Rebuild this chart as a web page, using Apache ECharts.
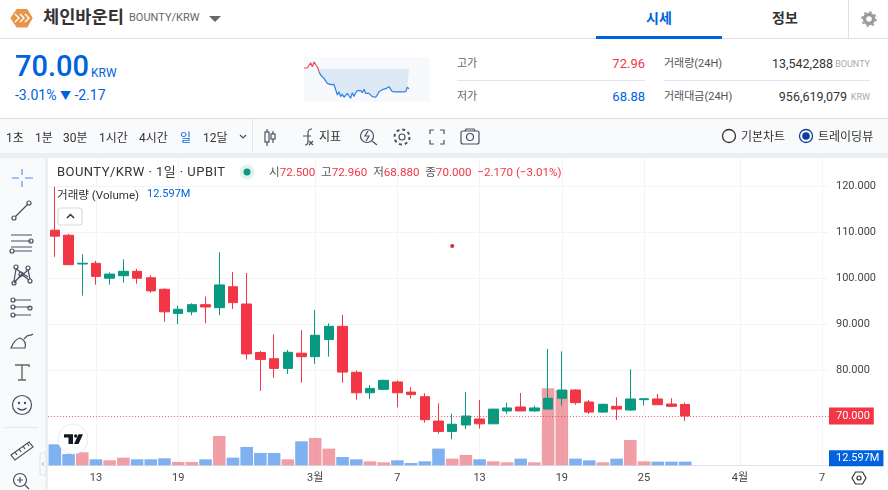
<!DOCTYPE html>
<html lang="ko">
<head>
<meta charset="utf-8">
<title>BOUNTY/KRW</title>
<script src="https://cdn.jsdelivr.net/npm/echarts@6/dist/echarts.min.js"></script>
<style>
html, body { margin: 0; padding: 0; background: #fff; overflow: hidden; }
body { width: 888px; height: 490px; position: relative; font-family: Roboto, "Noto Sans CJK KR", sans-serif; color: #333; }
#chart { position: absolute; left: 0; top: 0; width: 888px; height: 490px; }
#spark { position: absolute; left: 304px; top: 57px; width: 126px; height: 45px; background: #f8f9fc; }
.t { position: absolute; white-space: nowrap; line-height: 1; }
.r { transform: translateX(-100%); }
.box { position: absolute; }
svg.ic { position: absolute; left: 0; top: 0; width: 888px; height: 490px; fill: none; stroke: #4a5060; stroke-width: 1.2; }
.red { color: #f23645; }
.blue { color: #0062df; }
.grey { color: #aaa; }
</style>
</head>
<body>
<div id="chart"></div>

<!-- page chrome -->
<div class="box" style="left:0;top:0;width:888px;height:38px;background:#fff;border-bottom:1px solid #dfe1e6"></div>
<div class="box" style="left:0;top:39px;width:888px;height:79px;background:#fff;border-bottom:1px solid #d8dae0"></div>
<div class="box" style="left:0;top:119px;width:888px;height:34px;background:#f9fafc"></div>
<div class="box" style="left:0;top:153px;width:888px;height:5px;background:#eceef2"></div>
<div class="box" style="left:0;top:158px;width:45px;height:332px;background:#f9fafc"></div>
<div class="box" style="left:45px;top:158px;width:3px;height:332px;background:#eceef2"></div>
<div class="box" style="left:252px;top:119px;width:1px;height:34px;background:#e6e8ee"></div>
<div class="box" style="left:596px;top:36px;width:126px;height:3px;background:#0062df"></div>
<div class="box" style="left:848px;top:0;width:1px;height:38px;background:#dfe1e6"></div>
<div class="box" style="left:457px;top:80px;width:188px;height:1px;background:#e3e5ec"></div>
<div class="box" style="left:664px;top:80px;width:206px;height:1px;background:#e3e5ec"></div>
<div class="box" style="left:5px;top:427px;width:33px;height:1px;background:#e3e5ec"></div>

<div id="spark"></div>

<div class="t" style="left:43px;top:9px;font-size:17.6px;font-weight:700;color:#333">체인바운티</div>
<div class="t" style="left:129px;top:12px;font-size:11px;color:#666">BOUNTY/KRW</div>
<div class="t blue" style="left:646px;top:11px;font-size:14px;font-weight:700">시세</div>
<div class="t" style="left:772px;top:11px;font-size:14px;font-weight:700;color:#333">정보</div>

<div class="t blue" style="left:15px;top:52px;font-size:29px;font-weight:500">70.00</div>
<div class="t blue" style="left:91px;top:67px;font-size:12px">KRW</div>
<div class="t blue" style="left:15px;top:88px;font-size:14px">-3.01% <span style="font-size:11px">▼</span> -2.17</div>

<div class="t" style="left:457px;top:58px;font-size:11px;color:#666">고가</div>
<div class="t red r" style="left:645px;top:57px;font-size:13px">72.96</div>
<div class="t" style="left:457px;top:91px;font-size:11px;color:#666">저가</div>
<div class="t blue r" style="left:645px;top:90px;font-size:13px">68.88</div>
<div class="t" style="left:664px;top:58px;font-size:11px;color:#555">거래량(24H)</div>
<div class="t r" style="left:833px;top:58px;font-size:12.5px;color:#333">13,542,288</div>
<div class="t grey r" style="left:870px;top:60px;font-size:9px">BOUNTY</div>
<div class="t" style="left:664px;top:91px;font-size:11px;color:#555">거래대금(24H)</div>
<div class="t r" style="left:847px;top:91px;font-size:12.5px;color:#333">956,619,079</div>
<div class="t grey r" style="left:870px;top:93px;font-size:9px">KRW</div>

<div class="t" style="left:6px;top:132px;font-size:12px">1초</div>
<div class="t" style="left:35px;top:132px;font-size:12px">1분</div>
<div class="t" style="left:63px;top:132px;font-size:12px">30분</div>
<div class="t" style="left:99px;top:132px;font-size:12px">1시간</div>
<div class="t" style="left:139px;top:132px;font-size:12px">4시간</div>
<div class="t blue" style="left:180px;top:132px;font-size:12px">일</div>
<div class="t" style="left:203px;top:132px;font-size:12px">12달</div>
<div class="t" style="left:319px;top:131px;font-size:12px">지표</div>
<div class="t" style="left:741px;top:131px;font-size:12px">기본차트</div>
<div class="t" style="left:818px;top:131px;font-size:12px">트레이딩뷰</div>

<div class="t" style="left:57px;top:165px;font-size:13px;color:#333;letter-spacing:.45px">BOUNTY/KRW · 1일 · UPBIT</div>
<div class="t" style="left:269px;top:167px;font-size:11.6px;color:#555">시<span class="red">72.500</span>&nbsp;&nbsp;고<span class="red">72.960</span>&nbsp;&nbsp;저<span class="red">68.880</span>&nbsp;&nbsp;종<span class="red">70.000</span>&nbsp;&nbsp;<span class="red">−2.170 (−3.01%)</span></div>
<div class="t" style="left:57px;top:190px;font-size:11.6px;color:#333">거래량 (Volume)</div>
<div class="t blue" style="left:147px;top:188px;font-size:11px">12.597M</div>

<svg class="ic" viewBox="0 0 888 490">
  <!-- logo -->
  <polygon points="11,18 17,9.5 27,9.5 32,18 27,27 17,27" style="fill:#e8954a;stroke:#e8954a"/>
  <path d="M15,14 l4,4 -4,4 M20,14 l4,4 -4,4 M25,14 l4,4 -4,4" style="stroke:#fff;stroke-width:1.4"/>
  <polygon points="209,16 221,16 215,22" style="fill:#666;stroke:none"/>
  <!-- settings -->
  <circle cx="869" cy="19" r="4.5" style="stroke:#9a9a9a;stroke-width:3.4"/>
  <circle cx="869" cy="19" r="7" style="stroke:#9a9a9a;stroke-width:1.6;stroke-dasharray:2.6 2.9"/>
  <!-- toolbar -->
  <path d="M240,135 l3,3 3,-3" />
  <rect x="265" y="132" width="4" height="10"/><path d="M267,129 v3 M267,142 v4"/>
  <rect x="271" y="134" width="4" height="5"/><path d="M273,131 v3 M273,139 v4"/>
  <path d="M305,145 q3,0 3,-4 v-8 q0,-4 4,-4 M303,136 h8 M309,141 l4,4 M313,141 l-4,4"/>
  <circle cx="367" cy="136" r="6.5"/><path d="M372,141 l5,4 M368,131 l-3,5 h4 l-3,5"/>
  <circle cx="402" cy="137" r="3"/><circle cx="402" cy="137" r="7.5" style="stroke-width:2;stroke-dasharray:3 2.9"/>
  <path d="M430,134 v-4 h4 M440,130 h4 v4 M444,140 v4 h-4 M434,144 h-4 v-4"/>
  <rect x="461" y="131" width="18" height="13" rx="2"/><circle cx="470" cy="137" r="3.5"/><path d="M465,131 l1,-2 h8 l1,2"/>
  <circle cx="729" cy="136" r="6.5" style="stroke:#333;stroke-width:1.3"/>
  <circle cx="806" cy="136" r="6.5" style="stroke:#0b3f9e;stroke-width:1.3"/>
  <circle cx="806" cy="136" r="3.8" style="fill:#0b3f9e;stroke:none"/>
  <!-- left tools -->
  <path d="M22,169 v6 M22,181 v6 M12,178 h7 M25,178 h8" style="stroke:#7fb0f0;stroke-width:1.6"/>
  <circle cx="14" cy="218" r="2"/><circle cx="29" cy="203" r="2"/><path d="M15.5,216.5 l12,-12"/>
  <path d="M11,235 h21 M11,241 h20 M11,247 h21 M14,251 h18"/><circle cx="31" cy="241" r="2"/><circle cx="12" cy="251" r="2"/>
  <circle cx="16" cy="267" r="2"/><circle cx="28" cy="268" r="2"/><circle cx="21" cy="274" r="2"/><circle cx="14" cy="283" r="2"/><circle cx="30" cy="281" r="2"/>
  <path d="M16,269 l-2,12 M16,269 l12,8 M28,270 l-14,12 M28,270 l2,9 M14,283 l7,-8 M21,274 l8,6"/>
  <path d="M14,300 h17 M14,307 h17 M14,315 h17"/><circle cx="13" cy="300" r="2"/><circle cx="13" cy="307" r="2"/><circle cx="13" cy="315" r="2"/><circle cx="30" cy="308" r="2"/>
  <path d="M11,348 h14 c1,-4 0,-8 -5,-10 c-4,1 -7,5 -9,10 z M24,339 l3,-3 c2,-1 4,0 6,-2"/>
  <path d="M15,365 h14 v2 M22,365 v15 M18,380 h8" style="stroke:#666;stroke-width:1.4"/>
  <circle cx="22" cy="405" r="9.5"/><circle cx="19" cy="403" r=".6"/><circle cx="25" cy="403" r=".6"/><path d="M17.5,408 q4.5,4 9,0"/>
  <path d="M11,455 l18,-13 4,5 -18,13 z M15,452 l2,3 M19,449 l2,3 M23,446 l2,3 M27,443 l2,3"/>
  <circle cx="20" cy="480" r="6.5"/><path d="M17,480 h6 M20,477 v6 M25,485 l4,4"/>
  <rect x="40" y="453" width="6" height="22" rx="2" style="stroke:#e3e5ec;fill:#f9fafc"/>
  <path d="M44,462 l-2,2 2,2" style="stroke:#999;stroke-width:.8"/>
  <!-- legend bits -->
  <circle cx="247" cy="172" r="7.5" style="fill:#dff2ee;stroke:none"/><circle cx="247" cy="172" r="3.5" style="fill:#089981;stroke:none"/>
  <rect x="58" y="208" width="24" height="17" rx="3" style="fill:#fff;stroke:#d8dae0"/>
  <path d="M67,218 l3.5,-3.5 3.5,3.5" style="stroke:#333;stroke-width:1.5"/>
  <circle cx="73" cy="439" r="15" style="fill:#fff;stroke:#e8eaf0;stroke-width:1"/>
  <path d="M64,434.3 h9 v9.7 h-4.5 v-6.5 h-4.5 z M78.5,434.3 h4.5 l-4.5,9.7 h-4.5 z" style="fill:#131722;stroke:none"/>
  <circle cx="75.7" cy="436" r="1.7" style="fill:#131722;stroke:none"/>
  <!-- corner settings -->
  <polygon points="852,478 855.5,472 862.5,472 866,478 862.5,484 855.5,484" style="stroke:#333"/>
  <circle cx="859" cy="478" r="2" style="stroke:#333"/>
</svg>

<script>
// day labels, 2/10 ~ 4/7
var dateLabels = ['10','11','12','13','14','15','16','17','18','19','20','21','22','23','24','25','26','27','28',
	'3월','2','3','4','5','6','7','8','9','10','11','12','13','14','15','16','17','18','19','20','21','22','23','24','25','26','27','28','29','30','31',
	'4월','2','3','4','5','6','7']
var tickIndexes = [3, 9, 19, 25, 31, 37, 43, 50, 56]

var opens = [110.4,109.3,103.05,103.2,99.95,100.5,101.45,100.05,97.55,92.3,92.65,94.2,93.55,98.1,94.35,83.8,82.45,80.35,83.65,82.9,86.65,89.5,79.5,75.05,75.8,77.4,75.2,74.2,68.9,66.65,68.05,69.35,68.3,71.1,71.95,71.1,71.5,73.85,75.65,73.05,70.85,72.1,71.3,73.55,73.7,72.6,72.5]
var closes = [109.1,102.9,103.2,100.35,100.85,101.45,99.95,97.2,92.65,93.2,94.2,93.7,98.5,94.65,83.5,82.3,80.35,83.85,82.9,87.55,89.5,79.55,75.05,76,77.75,75.05,74.65,69.2,66.65,68.2,70,68.3,71.5,71.75,71.1,71.75,73.85,75.65,72.9,70.85,72.55,71.5,73.7,73.75,72.45,72.1,70]
var lows = [104.6,102.8,96.15,98.55,98.55,99,98.75,96.8,90.5,89.95,91.9,90.15,91.9,93.25,82.3,75.45,78.3,79.15,77.25,81.35,82.9,77.25,73.55,73.7,75.65,71.9,73.85,68.55,66.15,64.95,67.15,67.25,68.3,70.5,71.1,70.95,71.5,72.25,72.45,70.45,70.65,69.15,71.1,72.25,72.45,72.1,68.88]
var highs = [119.85,109.6,105.15,103.75,101.25,104.05,102,100.6,97.75,94,94.5,95.95,105.6,101.3,101.1,84.15,87.75,84.35,88.7,93.05,90.15,92,79.9,76.75,77.9,77.75,76.25,74.95,72.75,70.5,75.2,73.5,71.5,72.85,75,72.25,84.55,84.05,75.85,73.5,72.65,74.05,80.15,73.75,74.8,73.85,72.96]

// stray red dot on the chart: [day index, price]
var stray_dot = [29, 106.96]

// volume in millions, side: b = blue bar, r = red bar
var volumes = [72.1,38.9,44.7,20.6,17.2,26.3,20.6,20.6,24,11.5,11.5,20.6,100.8,26.3,63,42.4,42.4,20.6,82.4,93.9,57.3,28.6,20.6,13.7,10.3,17.2,8,13.7,57.3,22.9,35.5,20.6,13.7,10.3,22.9,10.3,264.5,258.8,22.9,17.2,10.3,22.9,87,13.7,12.6,12.6,12.597]
var volumeSides = ['b','b','r','b','r','r','b','b','b','r','r','b','r','b','b','b','b','r','b','r','r','b','b','r','r','b','b','b','b','r','r','b','r','r','b','r','r','r','b','b','r','b','r','r','b','b','b']

// 24h mini chart
var sparkRed = [72.27,72.34,72.27,72.41,72.85,72.41,72.92,72.85,72.41,71.87]
var sparkBlue = [71.87,71.5,71.39,71.14,70.96,70.59,70.52,70.45,70.45,70.48,70.59,69.32,69.68,69.14,69.43,69.07,68.88,69.5,69.21,68.96,69.57,69.14,69.57,69.79,69.61,69.79,69.57,69.94,69.5,69.68,69.5,69.43,69.14,69.1,69.07,69.32,69.68,69.86,69.9,69.94,70.01,70.16,70.23,69.94,69.68,69.65,69.65,69.65,69.65,69.65,69.65,69.65,69.68,70.16,70.01]
var sparkBase = 72.17

var UP = '#089981'
var DOWN = '#f23645'
var GRID_LINE = '#f3f4f6'
var AXIS_TEXT = '#444'

function isTick(index) {
	return tickIndexes.indexOf(index) >= 0
}

var candleData = opens.map(function(o, i) {
	return [o, closes[i], lows[i], highs[i]]
})
var volumeData = volumes.map(function(v, i) {
	return {
		value: v,
		itemStyle: { color: volumeSides[i] == 'r' ? 'rgba(226,70,84,0.52)' : 'rgba(0,98,223,0.5)' }
	}
})

var myChart = echarts.init(document.getElementById('chart'))
myChart.setOption({
	animation: false,
	textStyle: { fontFamily: 'Roboto, "Noto Sans CJK KR", sans-serif' },
	grid: [
		{ left: 48, width: 781, top: 158, height: 304 },
		{ left: 48, width: 781, top: 158, height: 307.3 }
	],
	xAxis: [{
		type: 'category',
		gridIndex: 0,
		data: dateLabels,
		show: false
	}, {
		type: 'category',
		gridIndex: 1,
		data: dateLabels,
		axisLine: { lineStyle: { color: '#e0e3eb' } },
		axisTick: { show: false },
		axisLabel: { interval: isTick, color: AXIS_TEXT, fontSize: 11, margin: 7 },
		splitLine: { show: true, interval: isTick, alignWithLabel: true, lineStyle: { color: GRID_LINE } }
	}],
	yAxis: [{
		type: 'value',
		gridIndex: 0,
		position: 'right',
		min: 60,
		max: 126.087,
		interval: 10,
		axisLine: { show: false },
		axisTick: { show: false },
		axisLabel: {
			color: AXIS_TEXT,
			fontSize: 11,
			margin: 7,
			showMinLabel: false,
			showMaxLabel: false,
			formatter: function(v) { return v.toFixed(3) }
		},
		splitLine: { showMinLine: false, showMaxLine: false, lineStyle: { color: GRID_LINE } }
	}, {
		type: 'value',
		gridIndex: 1,
		min: 0,
		max: 1055,
		show: false,
		splitLine: { show: false }
	}],
	series: [{
		type: 'bar',
		xAxisIndex: 1,
		yAxisIndex: 1,
		barWidth: 12.6,
		data: volumeData,
		z: 2,
		silent: true,
		markLine: {
			silent: true,
			symbol: 'none',
			lineStyle: { color: 'rgba(0,0,0,0)', width: 0 },
			data: [{ yAxis: 12.597 }],
			label: {
				position: 'end',
				distance: 0,
				offset: [0, -3.5],
				formatter: '12.597M',
				color: '#fff',
				fontSize: 11,
				backgroundColor: '#0062df',
				padding: [3, 4, 2, 7]
			}
		}
	}, {
		type: 'candlestick',
		xAxisIndex: 0,
		yAxisIndex: 0,
		barWidth: 10,
		data: candleData,
		z: 3,
		silent: true,
		itemStyle: { color: UP, color0: DOWN, borderColor: UP, borderColor0: DOWN, borderWidth: 1 },
		markPoint: {
			silent: true,
			symbol: 'circle',
			symbolSize: 4,
			itemStyle: { color: '#d9272e' },
			label: { show: false },
			data: [{ coord: stray_dot }]
		},
		markLine: {
			silent: true,
			symbol: 'none',
			lineStyle: { color: 'rgba(242,54,69,0.7)', type: [1, 2], width: 1 },
			data: [{ yAxis: 70 }],
			label: {
				position: 'end',
				distance: 0,
				formatter: '70.000',
				color: '#fff',
				fontSize: 11,
				backgroundColor: DOWN,
				padding: [3, 4, 3, 7]
			}
		}
	}]
})

var sparkChart = echarts.init(document.getElementById('spark'))
var sparkCats = sparkRed.concat(sparkBlue.slice(1)).map(function(v, i) { return i })
sparkChart.setOption({
	animation: false,
	grid: { left: 0, width: 105, top: 4.7, bottom: 3 },
	xAxis: { type: 'category', data: sparkCats, show: false, boundaryGap: false },
	yAxis: { type: 'value', min: 68.88, max: 72.96, show: false },
	series: [{
		type: 'line',
		data: sparkRed,
		symbol: 'none',
		lineStyle: { color: '#e8505f', width: 1.2 }
	}, {
		type: 'line',
		data: new Array(sparkRed.length - 1).fill(null).concat(sparkBlue),
		symbol: 'none',
		lineStyle: { color: '#2f7fe6', width: 1.2 },
		areaStyle: { color: '#dee9f6', origin: sparkBase, opacity: 1 }
	}]
})
</script>
</body>
</html>
